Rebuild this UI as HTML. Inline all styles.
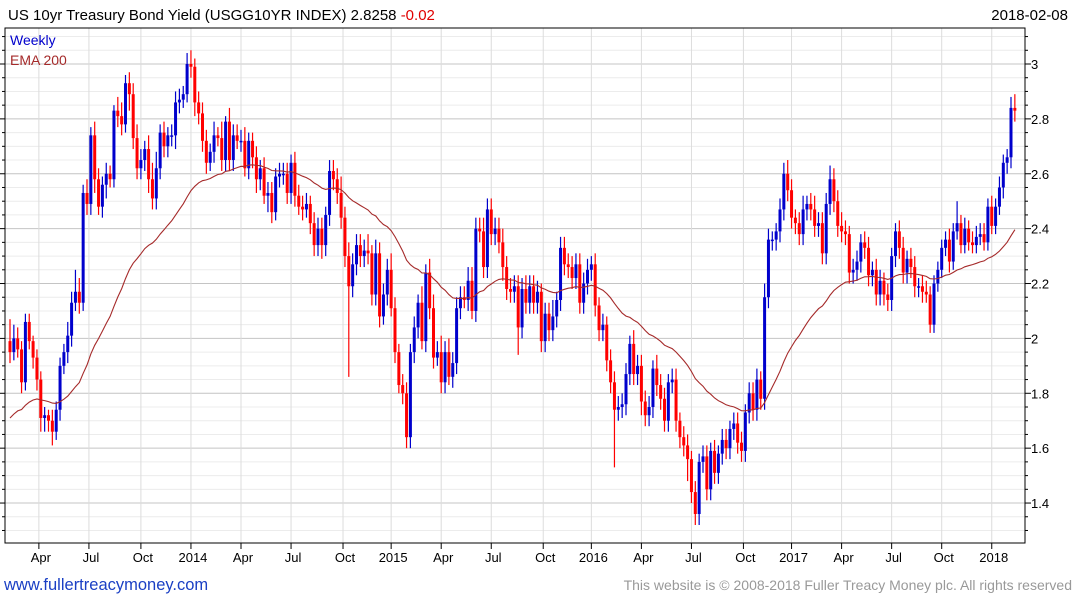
<!DOCTYPE html>
<html><head><meta charset="utf-8"><style>
body{margin:0;background:#fff;font-family:"Liberation Sans",sans-serif;}
svg{display:block}
</style></head><body>
<svg width="1075" height="600" id="c" xmlns="http://www.w3.org/2000/svg">
<rect width="1075" height="600" fill="#fff"/>
<text x="8" y="20" font-size="15" fill="#000">US 10yr Treasury Bond Yield (USGG10YR INDEX) 2.8258 <tspan fill="#e00000">-0.02</tspan></text>
<text x="1068" y="20" font-size="15" text-anchor="end" fill="#000">2018-02-08</text>
<g id="grid"></g>
<g id="marks"></g>
<rect x="5" y="28" width="1020" height="515" fill="none" stroke="#000" stroke-width="1"/>
<g id="axes"></g>
<text x="10" y="45" font-size="14" fill="#0000cc">Weekly</text>
<text x="10" y="65" font-size="14" fill="#a52a2a">EMA 200</text>
<text x="4" y="590" font-size="16.5" fill="#1a3fc4">www.fullertreacymoney.com</text>
<text x="1072" y="590" font-size="14" fill="#999" text-anchor="end">This website is © 2008-2018 Fuller Treacy Money plc. All rights reserved</text>
</svg>
<script>
const closes=[1.95,2.00,1.96,1.84,2.06,1.99,1.93,1.85,1.71,1.72,1.70,1.66,1.74,1.90,1.95,2.01,2.13,2.17,2.13,2.53,2.49,2.74,2.58,2.48,2.56,2.60,2.58,2.83,2.81,2.78,2.93,2.89,2.73,2.62,2.65,2.69,2.58,2.51,2.62,2.75,2.70,2.74,2.74,2.86,2.87,2.89,3.00,
2.99,2.86,2.82,2.72,2.64,2.68,2.74,2.73,2.65,2.79,2.65,2.74,2.72,2.72,2.62,2.72,2.66,2.58,2.62,2.52,2.53,2.46,2.59,2.60,2.60,2.53,2.64,2.52,2.48,2.47,2.49,2.42,2.34,2.40,2.34,2.45,2.61,2.58,2.53,2.44,2.30,2.19,2.27,2.34,2.30,2.32,2.31,2.16,2.31,2.08,2.16,2.25,
2.11,1.95,1.83,1.80,1.64,1.95,2.04,2.13,1.99,2.24,2.11,1.93,1.95,1.84,1.95,1.86,1.91,2.11,2.15,2.14,2.21,2.10,2.40,2.39,2.26,2.47,2.38,2.40,2.35,2.26,2.18,2.17,2.19,2.04,2.18,2.13,2.19,2.13,2.17,1.99,2.09,2.03,2.08,2.14,2.33,2.27,2.26,2.22,2.27,2.13,2.20,2.25,
2.27,2.12,2.03,2.05,1.92,1.84,1.74,1.75,1.76,1.87,1.98,1.87,1.90,1.77,1.72,1.75,1.89,1.83,1.78,1.70,1.84,1.85,1.70,1.64,1.61,1.56,1.44,1.36,1.55,1.57,1.45,1.59,1.51,1.58,1.63,1.60,1.67,1.69,1.62,1.59,1.73,1.80,1.74,1.85,1.78,2.15,2.36,2.36,2.39,2.47,2.60,2.54,2.44,
2.42,2.38,2.47,2.49,2.47,2.41,2.42,2.31,2.49,2.58,2.50,2.41,2.39,2.38,2.24,2.25,2.28,2.35,2.33,2.23,2.25,2.16,2.21,2.16,2.14,2.30,2.39,2.33,2.24,2.29,2.26,2.19,2.19,2.17,2.16,2.05,2.20,2.25,2.33,2.36,2.28,2.39,2.42,2.34,2.40,2.35,2.34,2.37,2.38,2.35,2.48,2.41,
2.48,2.55,2.64,2.66,2.84,2.83];
const firstOpen=1.99;
const upWick=[0.08,0.05,0.04,0.03,0.03,0.03,0.02,0.03,0.03,0.03,0.02,0.04,0.03,0.03,0.03,0.05,0.04,0.08,0.05,0.03,0.05,0.03,0.05,0.04,0.03,0.04,0.03,0.02,0.05,0.05,0.03,0.04,0.04,0.05,0.04,0.03,0.05,0.06,0.06,0.03,0.04,0.03,0.04,0.04,0.04,0.03,0.04,
0.05,0.03,0.04,0.04,0.04,0.03,0.05,0.03,0.06,0.02,0.05,0.04,0.04,0.04,0.05,0.03,0.03,0.04,0.03,0.04,0.04,0.04,0.03,0.04,0.04,0.04,0.03,0.04,0.04,0.04,0.04,0.03,0.04,0.04,0.04,0.03,0.04,0.04,0.04,0.06,0.04,0.05,0.04,0.04,0.04,0.04,0.06,0.03,0.05,0.04,0.04,0.04,
0.06,0.04,0.03,0.04,0.04,0.03,0.04,0.03,0.06,0.03,0.05,0.05,0.04,0.06,0.04,0.05,0.04,0.04,0.04,0.04,0.05,0.05,0.04,0.04,0.05,0.04,0.04,0.04,0.04,0.05,0.04,0.04,0.04,0.04,0.04,0.05,0.04,0.04,0.04,0.03,0.04,0.04,0.06,0.03,0.04,0.04,0.04,0.04,0.04,0.04,0.04,0.04,
0.03,0.04,0.03,0.04,0.03,0.04,0.04,0.04,0.04,0.04,0.03,0.05,0.04,0.04,0.04,0.04,0.03,0.05,0.04,0.04,0.03,0.04,0.04,0.03,0.04,0.04,0.03,0.04,0.03,0.04,0.04,0.03,0.04,0.03,0.04,0.04,0.03,0.04,0.04,0.04,0.03,0.04,0.04,0.04,0.03,0.05,0.04,0.03,0.03,0.04,0.04,0.05,0.04,
0.03,0.04,0.05,0.03,0.04,0.05,0.04,0.04,0.04,0.05,0.04,0.04,0.05,0.04,0.03,0.04,0.04,0.03,0.04,0.04,0.03,0.04,0.04,0.03,0.04,0.03,0.03,0.04,0.04,0.03,0.04,0.04,0.03,0.04,0.04,0.03,0.03,0.03,0.03,0.03,0.04,0.03,0.08,0.03,0.04,0.03,0.04,0.04,0.04,0.04,0.03,0.04,
0.03,0.04,0.03,0.03,0.04,0.05];
const dnWick=[0.04,0.03,0.03,0.04,0.03,0.03,0.04,0.04,0.05,0.05,0.04,0.05,0.03,0.04,0.03,0.04,0.04,0.03,0.04,0.03,0.04,0.04,0.05,0.03,0.04,0.05,0.03,0.03,0.04,0.04,0.03,0.06,0.04,0.04,0.04,0.04,0.05,0.04,0.04,0.04,0.04,0.04,0.04,0.05,0.04,0.03,0.03,
0.04,0.05,0.04,0.04,0.04,0.03,0.04,0.03,0.04,0.04,0.04,0.04,0.03,0.04,0.03,0.04,0.04,0.05,0.04,0.03,0.06,0.04,0.03,0.04,0.04,0.04,0.04,0.04,0.03,0.04,0.03,0.04,0.04,0.04,0.05,0.04,0.04,0.04,0.04,0.04,0.04,0.33,0.04,0.04,0.04,0.04,0.04,0.04,0.04,0.04,0.03,0.04,
0.03,0.04,0.03,0.04,0.04,0.04,0.04,0.04,0.03,0.04,0.04,0.04,0.03,0.04,0.04,0.03,0.04,0.04,0.04,0.03,0.04,0.03,0.04,0.04,0.04,0.04,0.04,0.04,0.04,0.05,0.04,0.04,0.04,0.10,0.04,0.04,0.04,0.04,0.04,0.04,0.04,0.04,0.04,0.04,0.04,0.04,0.04,0.04,0.04,0.04,0.04,0.04,
0.04,0.04,0.04,0.04,0.04,0.04,0.21,0.04,0.04,0.04,0.04,0.04,0.04,0.05,0.04,0.04,0.04,0.04,0.04,0.04,0.04,0.04,0.04,0.04,0.04,0.08,0.04,0.04,0.04,0.04,0.04,0.04,0.04,0.04,0.04,0.04,0.04,0.04,0.04,0.04,0.04,0.04,0.04,0.04,0.04,0.04,0.04,0.04,0.04,0.04,0.04,0.04,0.04,
0.04,0.04,0.04,0.04,0.04,0.04,0.04,0.04,0.04,0.04,0.04,0.04,0.04,0.04,0.04,0.04,0.04,0.04,0.04,0.04,0.04,0.04,0.04,0.04,0.04,0.04,0.04,0.04,0.04,0.04,0.04,0.04,0.04,0.04,0.03,0.03,0.03,0.03,0.03,0.03,0.04,0.03,0.03,0.03,0.03,0.03,0.03,0.03,0.03,0.03,0.03,0.03,
0.03,0.03,0.04,0.04,0.04,0.04];
const emaSeed=1.71;
const emaPeriod=40;
const yTicks=[1.4,1.6,1.8,2,2.2,2.4,2.6,2.8,3];
const xLabels=["Apr","Jul","Oct","2014","Apr","Jul","Oct","2015","Apr","Jul","Oct","2016","Apr","Jul","Oct","2017","Apr","Jul","Oct","2018"];
const xLabelWeek=[7.5,20.5,34,47,60,73,86.5,99,112,125,138.5,151,164,177,190.5,203,216,229,242,255];

const NS="http://www.w3.org/2000/svg";
const X0=10,STEP=3.85,PL=5,PR=1025,PT=28,PB=543;
const yv=v=>64+(3-v)*274.4;
const xi=i=>X0+i*STEP;
function mk(tag,attrs,parent){const e=document.createElementNS(NS,tag);for(const k in attrs)e.setAttribute(k,attrs[k]);parent.appendChild(e);return e;}
const grid=document.getElementById('grid'),marks=document.getElementById('marks'),axes=document.getElementById('axes');
for(let v=1.25;v<=3.16;v+=0.05){
  const vv=Math.round(v*100)/100;const y=yv(vv);if(y<PT||y>PB)continue;
  const major=Math.abs(vv*5-Math.round(vv*5))<1e-6;
  const l=mk('line',{x1:PL,x2:PR,y1:y,y2:y,stroke:major?'#c4c4c4':'#ececec','stroke-width':1},grid);
  
  
  const t1=mk('line',{x1:PR,x2:PR+(major?6:3),y1:y,y2:y,stroke:'#000'},axes);
  
  
  const t2=mk('line',{x1:PL,x2:PL-(major?5:3),y1:y,y2:y,stroke:'#000'},axes);
  
  
}
yTicks.forEach(v=>{
  const t=mk('text',{x:1031,y:yv(v)+5,'font-size':13,fill:'#000'},axes);t.textContent=String(v);
  
  
});
xLabels.forEach((s,k)=>{
  const x=xi(xLabelWeek[k]);
  const l=mk('line',{x1:x,x2:x,y1:PT,y2:PB,stroke:'#dcdcdc'},grid);
  
  
  const tk=mk('line',{x1:x,x2:x,y1:PB,y2:PB+6,stroke:'#000'},axes);
  
  
  const t=mk('text',{x:x+2,y:562,'font-size':13,'text-anchor':'middle',fill:'#000'},axes);t.textContent=s;
  
  
});
let prev=firstOpen;
closes.forEach((c,i)=>{
  const o=prev;prev=c;
  const up=c>=o;const col=up?'#0000cc':'#ff0000';
  const hi=Math.max(o,c)+upWick[i],lo=Math.min(o,c)-dnWick[i];
  const x=xi(i);
  const w=mk('line',{x1:x,x2:x,y1:yv(hi),y2:yv(lo),stroke:col,'stroke-width':1.2},marks);
  
  
  const yt=yv(Math.max(o,c)),yb=yv(Math.min(o,c));
  const b=mk('rect',{x:x-1.5,y:yt,width:3,height:Math.max(1.5,yb-yt),fill:col},marks);
  
  
});
let e=emaSeed;const a=2/(emaPeriod+1);let d='';
closes.forEach((c,i)=>{e=i===0?emaSeed:e+a*(c-e);d+=(i?'L':'M')+xi(i).toFixed(1)+','+yv(e).toFixed(1);});
const p=mk('path',{d:d,fill:'none',stroke:'#a52a2a','stroke-width':1.1},marks);


</script>
</body></html>
